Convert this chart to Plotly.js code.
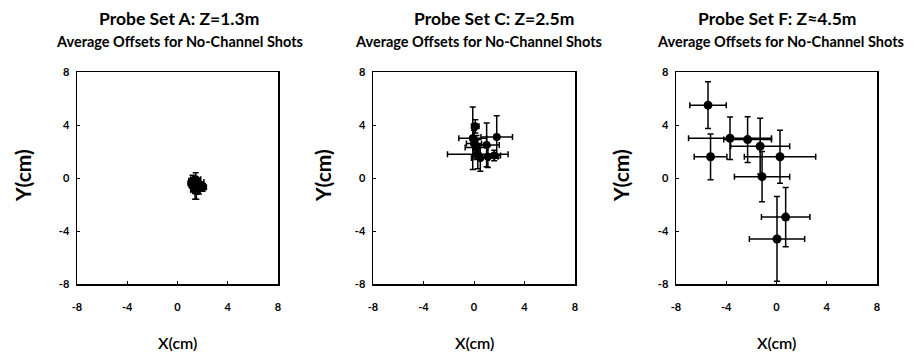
<!DOCTYPE html>
<html>
<head>
<meta charset="utf-8">
<script src="https://cdn.plot.ly/plotly-3.0.1.min.js"></script>
<style>html,body{margin:0;padding:0;background:#fff}#chart{width:915px;height:356px}</style>
</head>
<body>
<div id="chart"></div>
<script>
// Panel A: Probe Set A, Z=1.3m
const aX  = [1.2, 1.5, 1.7, 1.4, 1.6, 1.3, 1.8, 1.5, 1.1, 2.0, 1.45];
const aY  = [-0.2, -0.5, -0.8, -0.9, -0.3, -0.6, -0.6, -1.0, -0.4, -0.7, -0.1];
const aEx = [0.3, 0.4, 0.3, 0.35, 0.5, 0.3, 0.4, 0.3, 0.25, 0.3, 0.4];
const aEy = [0.4, 0.3, 0.4, 0.7, 0.3, 0.4, 0.3, 0.6, 0.3, 0.3, 0.5];
// Panel C: Probe Set C, Z=2.5m
const cX  = [1.8, -0.1, 0.3, 1.0, 0.1, 0.2, 1.1, 0.5, 1.6, 0.0];
const cY  = [3.1, 3.0, 1.8, 2.5, 3.9, 2.3, 1.6, 1.5, 1.7, 2.6];
const cEx = [1.25, 1.1, 2.4, 1.0, 0.3, 0.9, 0.8, 0.7, 0.5, 0.6];
const cEy = [1.6, 2.35, 1.1, 1.65, 0.5, 0.9, 0.8, 1.0, 0.4, 1.0];
// Panel F: Probe Set F, Z=4.5m
const fX  = [-5.45, -5.25, -3.7, -2.3, -1.3, 0.28, -1.15, 0.73, 0.04];
const fY  = [5.5, 1.6, 3.0, 2.9, 2.4, 1.6, 0.1, -2.95, -4.6];
const fEx = [1.45, 1.3, 3.3, 1.9, 2.35, 2.84, 2.2, 1.93, 2.2];
const fEy = [1.77, 1.73, 1.6, 1.73, 2.1, 2.0, 1.9, 2.24, 3.2];

const titles = ['Probe Set A: Z=1.3m', 'Probe Set C: Z=2.5m', 'Probe Set F: Z\u22484.5m'];
const subtitle = 'Average Offsets for No-Channel Shots';
const tickVals = [-8, -4, 0, 4, 8];
const tickText = ['-8', '-4', '0', '4', '8'];

const FONT = 'Lato, "Open Sans", sans-serif';
function tr(x, y, ex, ey, k, ms) {
  return {
    type: 'scatter', mode: 'markers', x: x, y: y,
    xaxis: 'x' + (k === 1 ? '' : k), yaxis: 'y' + (k === 1 ? '' : k),
    marker: {color: '#000', size: ms},
    error_x: {type: 'data', array: ex, visible: true, color: '#000', thickness: 1.5, width: 3},
    error_y: {type: 'data', array: ey, visible: true, color: '#000', thickness: 1.5, width: 3},
    showlegend: false, hoverinfo: 'x+y'
  };
}
const data = [tr(aX, aY, aEx, aEy, 1, 8), tr(cX, cY, cEx, cEy, 2, 8), tr(fX, fY, fEx, fEy, 3, 9)];

const W = 915, H = 356;
const xd = [[77 / W, 278 / W], [373 / W, 575 / W], [676 / W, 877 / W]];
const yd = [1 - 284 / H, 1 - 72 / H];
function xax(i) {
  return {domain: xd[i], range: [-8, 8], tickvals: tickVals, ticktext: tickText,
    ticks: 'inside', ticklen: 3, tickwidth: 1, tickcolor: '#000',
    showline: true, linecolor: '#000', linewidth: 1.5, mirror: true,
    showgrid: false, zeroline: false, anchor: 'y' + (i ? i + 1 : ''),
    tickfont: {family: FONT, size: 11, color: '#000', weight: 700}, ticklabelstandoff: 12, fixedrange: true};
}
function yax(i) {
  return {domain: yd, range: [-8, 8], tickvals: tickVals, ticktext: tickText,
    ticks: 'inside', ticklen: 3, tickwidth: 1, tickcolor: '#000',
    showline: true, linecolor: '#000', linewidth: 1.5, mirror: true,
    showgrid: false, zeroline: false, anchor: 'x' + (i ? i + 1 : ''),
    tickfont: {family: FONT, size: 11, color: '#000', weight: 700}, ticklabelstandoff: 4, fixedrange: true};
}
const titleX = [178.5, 494, 777];
const subX = [179, 478, 780];
const yTitleX = [22, 322, 620];
const ann = [];
for (let i = 0; i < 3; i++) {
  ann.push({xref: 'paper', yref: 'paper', x: titleX[i] / W, y: 1 - 18 / H, text: titles[i], showarrow: false,
    xanchor: 'center', yanchor: 'middle', font: {family: FONT, size: 17.5, color: '#000', weight: 700}});
  ann.push({xref: 'paper', yref: 'paper', x: subX[i] / W, y: 1 - 42 / H, text: subtitle, showarrow: false,
    xanchor: 'center', yanchor: 'middle', font: {family: FONT, size: 14.5, color: '#000', weight: 700}});
  ann.push({xref: 'paper', yref: 'paper', x: (xd[i][0] + xd[i][1]) / 2, y: 1 - 342 / H, text: 'X(cm)', showarrow: false,
    xanchor: 'center', yanchor: 'middle', font: {family: FONT, size: 16, color: '#000', weight: 600}});
  ann.push({xref: 'paper', yref: 'paper', x: yTitleX[i] / W, y: 1 - 176 / H, text: 'Y(cm)', showarrow: false, textangle: -90,
    xanchor: 'center', yanchor: 'middle', font: {family: FONT, size: 21, color: '#000', weight: 700}});
}
const layout = {
  width: W, height: H, margin: {l: 0, r: 0, t: 0, b: 0},
  paper_bgcolor: '#fff', plot_bgcolor: '#fff',
  xaxis: xax(0), xaxis2: xax(1), xaxis3: xax(2),
  yaxis: yax(0), yaxis2: yax(1), yaxis3: yax(2),
  annotations: ann, showlegend: false
};
Plotly.newPlot('chart', data, layout, {displayModeBar: false, staticPlot: true});
</script>
</body>
</html>
